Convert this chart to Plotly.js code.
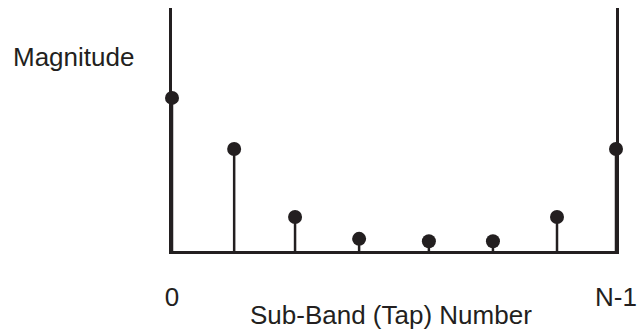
<!DOCTYPE html>
<html>
<head>
<meta charset="utf-8">
<script src="https://cdn.plot.ly/plotly-3.0.1.min.js"></script>
<style>html,body{margin:0;padding:0;background:#fff;}#chart{width:644px;height:334px;}</style>
</head>
<body>
<div id="chart"></div>
<script>
// Sub-band (tap) positions (0 .. N-1)
const tapPositions = [0, 0.98, 1.94, 2.95, 4.05, 5.06, 6.07, 7];
// Relative magnitude of each tap
const magnitudes = [0.63, 0.42, 0.14, 0.05, 0.04, 0.04, 0.14, 0.42];
const tickValues = [0, 7];
const tickLabels = ['0', 'N-1'];
const xTitle = 'Sub-Band (Tap) Number';
const yTitle = 'Magnitude';

const ink = '#231f20';
const fontFam = '"Liberation Sans", Arial, sans-serif';

const trace = {
  type: 'scatter',
  mode: 'markers',
  x: tapPositions,
  y: magnitudes,
  cliponaxis: false,
  marker: {size: 14, color: ink},
  error_y: {
    type: 'data',
    symmetric: false,
    array: magnitudes.map(() => 0),
    arrayminus: magnitudes,
    width: 0,
    thickness: 2.5,
    color: ink
  },
  hoverinfo: 'skip'
};

const layout = {
  width: 644,
  height: 334,
  margin: {l: 172, r: 28, t: 8, b: 83},
  paper_bgcolor: '#fff',
  plot_bgcolor: '#fff',
  showlegend: false,
  font: {family: fontFam, color: ink, size: 26},
  xaxis: {
    range: [0, 7],
    showgrid: false,
    zeroline: false,
    showline: true,
    linecolor: ink,
    linewidth: 3,
    ticks: '',
    tickvals: tickValues,
    ticktext: tickLabels,
    tickfont: {size: 26, color: ink, family: fontFam},
    ticklabelstandoff: 21,
    fixedrange: true
  },
  yaxis: {
    range: [0, 1],
    showgrid: false,
    zeroline: false,
    showline: true,
    mirror: true,
    linecolor: ink,
    linewidth: 3,
    ticks: '',
    showticklabels: false,
    fixedrange: true
  },
  annotations: [{
    text: yTitle,
    xref: 'paper', yref: 'paper',
    x: -0.222, y: 0.798,
    xanchor: 'center', yanchor: 'middle',
    showarrow: false,
    font: {size: 26, color: ink, family: fontFam}
  }, {
    text: xTitle,
    xref: 'paper', yref: 'paper',
    x: 0.493, y: -0.263,
    xanchor: 'center', yanchor: 'middle',
    showarrow: false,
    font: {size: 26, color: ink, family: fontFam}
  }]
};

Plotly.newPlot('chart', [trace], layout, {displayModeBar: false, staticPlot: true});
</script>
</body>
</html>
